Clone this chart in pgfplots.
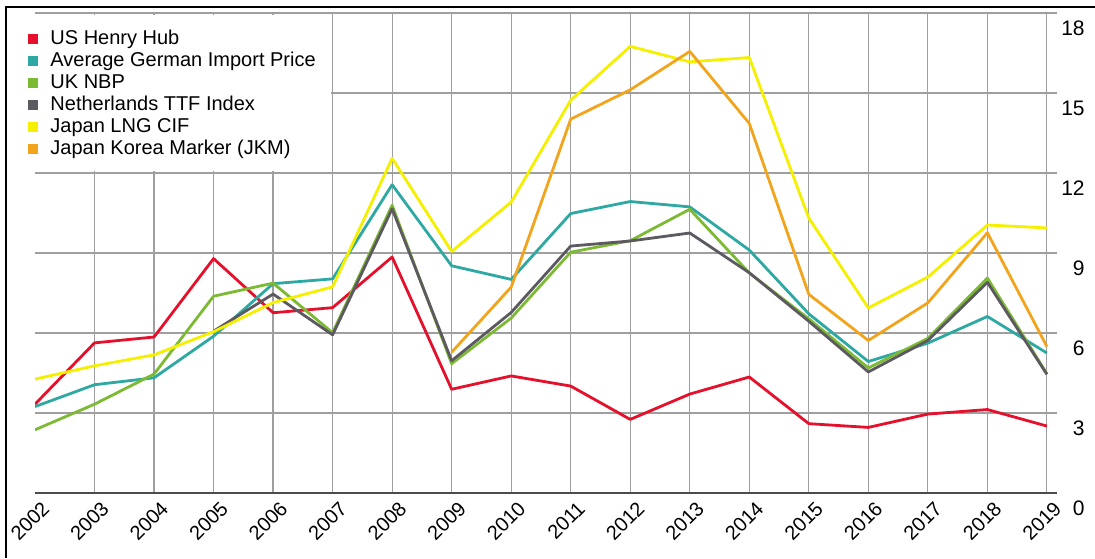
\documentclass[border=0pt]{standalone}
\usepackage{pgfplots}
\pgfplotsset{compat=1.18}
\usepackage{fontspec}
\setmainfont{Liberation Sans}

\definecolor{hhred}{HTML}{E5102B}
\definecolor{deteal}{HTML}{2EA8A2}
\definecolor{nbpgreen}{HTML}{7DBA33}
\definecolor{ttfgrey}{HTML}{5C5A60}
\definecolor{lngyellow}{HTML}{F4F000}
\definecolor{jkmorange}{HTML}{F2A41C}

\pgfplotstableread{
x y
2002 3.33
2003 5.63
2004 5.85
2005 8.79
2006 6.76
2007 6.95
2008 8.85
2009 3.89
2010 4.39
2011 4.01
2012 2.76
2013 3.71
2014 4.35
2015 2.60
2016 2.46
2017 2.96
2018 3.13
2019 2.51
}\henryhub

\pgfplotstableread{
x y
2002 3.24
2003 4.06
2004 4.32
2005 5.88
2006 7.85
2007 8.03
2008 11.56
2009 8.52
2010 8.01
2011 10.48
2012 10.93
2013 10.73
2014 9.11
2015 6.72
2016 4.93
2017 5.62
2018 6.62
2019 5.25
}\german

\pgfplotstableread{
x y
2002 2.37
2003 3.33
2004 4.46
2005 7.38
2006 7.87
2007 6.01
2008 10.79
2009 4.85
2010 6.56
2011 9.03
2012 9.46
2013 10.64
2014 8.25
2015 6.53
2016 4.69
2017 5.80
2018 8.06
2019 4.47
}\nbp

\pgfplotstableread{
x y
2005 6.07
2006 7.46
2007 5.93
2008 10.66
2009 4.96
2010 6.77
2011 9.26
2012 9.45
2013 9.75
2014 8.26
2015 6.44
2016 4.54
2017 5.72
2018 7.90
2019 4.45
}\ttf

\pgfplotstableread{
x y
2002 4.27
2003 4.77
2004 5.18
2005 6.05
2006 7.14
2007 7.73
2008 12.55
2009 9.06
2010 10.91
2011 14.73
2012 16.75
2013 16.17
2014 16.33
2015 10.31
2016 6.94
2017 8.10
2018 10.05
2019 9.94
}\lng

\pgfplotstableread{
x y
2009 5.28
2010 7.72
2011 14.02
2012 15.12
2013 16.56
2014 13.86
2015 7.45
2016 5.72
2017 7.13
2018 9.76
2019 5.49
}\jkm

\begin{document}
\begin{tikzpicture}
\useasboundingbox (0,0) rectangle (547.5pt,279pt);
% frame (left and top edges only)
\draw[black, line width=1pt] (3pt,0) -- (3pt,275.5pt) -- (547.5pt,275.5pt);

\begin{axis}[
    at={(17.5pt,32.5pt)}, anchor=south west,
    scale only axis,
    width=511pt, height=240pt,
    xmin=2002, xmax=2019.17,
    ymin=0, ymax=18,
    xtick={2002,...,2019},
    minor xtick={2003,...,2019},
    ytick={0,3,...,18},
    xmajorgrids=false, xminorgrids=true, ymajorgrids=true,
    grid style={gray!75, line width=0.6pt},
    minor grid style={gray!75, line width=0.6pt},
    axis line style={draw=none},
    major tick length=0pt, minor tick length=0pt,
    yticklabel pos=right,
    /pgf/number format/assume math mode=true,
    xticklabel={\pgfmathprintnumber[1000 sep={}]{\tick}},
    xticklabel style={xshift=5.5pt, yshift=-6pt, rotate=45, anchor=east, inner sep=0pt, font=\normalsize},
    yticklabel style={anchor=east, inner sep=0pt, xshift=14pt, yshift=-7.75pt, font=\fontsize{10.5}{12}\selectfont},
    legend cell align=left,
    legend style={
        at={(axis description cs:-0.0068,0.9656)}, anchor=north west,
        draw=none, fill=none, inner sep=0pt,
        row sep=1.5pt, column sep=0pt,
        nodes={inner sep=0pt, text height=7.5pt, text depth=2pt},
        font=\normalsize,
    },
    legend image code/.code={%
        \fill[#1, draw=none] (0pt,-2.5pt) rectangle (5pt,2.5pt);
        \path[draw=none] (11pt,0pt);},
    every axis plot/.append style={line width=1.4pt, line join=round},
]
% white box behind the legend
\fill[white] (axis cs:2002,12.07) rectangle (axis cs:2006.97,17.93);
\draw[gray!60!black, line width=0.8pt] (rel axis cs:0,0) -- (rel axis cs:1,0);

\addplot[color=hhred] table[x=x, y=y] {\henryhub};
\addlegendentry{US Henry Hub}
\addplot[color=deteal] table[x=x, y=y] {\german};
\addlegendentry{Average German Import Price}
\addplot[color=nbpgreen] table[x=x, y=y] {\nbp};
\addlegendentry{UK NBP}
\addplot[color=ttfgrey] table[x=x, y=y] {\ttf};
\addlegendentry{Netherlands TTF Index}
\addplot[color=lngyellow] table[x=x, y=y] {\lng};
\addlegendentry{Japan LNG CIF}
\addplot[color=jkmorange] table[x=x, y=y] {\jkm};
\addlegendentry{Japan Korea Marker (JKM)}
\end{axis}
\end{tikzpicture}
\end{document}
